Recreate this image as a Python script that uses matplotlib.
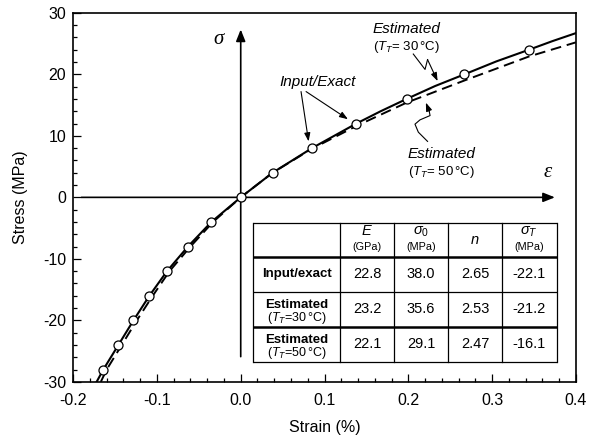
import matplotlib.pyplot as plt
from matplotlib.ticker import MultipleLocator

plt.rcParams.update({
    "font.family": "Liberation Sans",
    "mathtext.fontset": "custom",
    "mathtext.rm": "Liberation Sans",
    "mathtext.it": "Liberation Sans:italic",
    "mathtext.bf": "Liberation Sans:bold",
})

# input / exact data points (strain %, stress MPa)
exact_strain = [-0.164, -0.146, -0.128, -0.109, -0.088, -0.063, -0.035, 0.0,
                0.038, 0.085, 0.138, 0.198, 0.267, 0.344]
exact_stress = [-28, -24, -20, -16, -12, -8, -4, 0, 4, 8, 12, 16, 20, 24]

# estimated curve, T_T = 30 C (solid)
est30_strain = [-0.172, -0.164, -0.146, -0.128, -0.109, -0.088, -0.063, -0.035, 0.0,
                0.038, 0.085, 0.138, 0.167, 0.198, 0.232, 0.267, 0.305, 0.344, 0.372, 0.40]
est30_stress = [-30, -28, -24, -20, -16, -12, -8, -4, 0,
                4, 8, 12, 14.0, 16, 18.1, 20, 22.1, 24, 25.4, 26.7]

# estimated curve, T_T = 50 C (dashed)
est50_strain = [-0.167, -0.160, -0.142, -0.124, -0.105, -0.085, -0.060, -0.033, 0.0,
                0.038, 0.085, 0.138, 0.198, 0.267, 0.344, 0.40]
est50_stress = [-30, -28, -24, -20, -16, -12, -8, -4, 0,
                4, 7.9, 11.6, 15.4, 19.0, 22.9, 25.2]

col_heads = ["$E$", r"$\mathit{σ_0}$", "$n$", r"$\mathit{σ_T}$"]
col_units = ["(GPa)", "(MPa)", "", "(MPa)"]
row_names = ["Input/exact", "Estimated", "Estimated"]
row_notes = ["", r"($T_T$=30$\,$°C)", r"($T_T$=50$\,$°C)"]
table_vals = [
    ["22.8", "38.0", "2.65", "-22.1"],
    ["23.2", "35.6", "2.53", "-21.2"],
    ["22.1", "29.1", "2.47", "-16.1"],
]

fig = plt.figure(figsize=(5.9, 4.43), dpi=100)
ax = fig.add_axes([0.124, 0.138, 0.852, 0.833])

ax.plot(est30_strain, est30_stress, color="black", lw=1.5, zorder=3)
ax.plot(est50_strain, est50_stress, color="black", lw=1.4, ls=(0, (5.5, 3)), zorder=3)
ax.plot(exact_strain, exact_stress, ls="none", marker="o", ms=6.5,
        mfc="white", mec="black", mew=0.9, zorder=4)

# sigma / epsilon axes
arrow = dict(arrowstyle="-|>,head_length=0.7,head_width=0.28", lw=1.2,
             color="black", shrinkA=0, shrinkB=0)
ax.annotate("", xy=(0.375, 0), xytext=(-0.19, 0), arrowprops=arrow, zorder=2)
ax.annotate("", xy=(0, 27.3), xytext=(0, -25.9), arrowprops=arrow, zorder=2)
ax.text(-0.027, 25.7, "σ", family="Liberation Serif", style="italic",
        fontsize=15, ha="center", va="center")
ax.text(0.366, 4.1, "ε", family="Liberation Serif", style="italic",
        fontsize=15, ha="center", va="center")

# annotations
thin = dict(arrowstyle="-|>,head_length=0.5,head_width=0.18", lw=0.8,
            color="black", shrinkA=0, shrinkB=0)
ax.text(0.092, 18.7, "Input/Exact", style="italic", fontsize=11, ha="center", va="center")
ax.annotate("", xy=(0.081, 9.1), xytext=(0.072, 17.2), arrowprops=thin)
ax.annotate("", xy=(0.128, 12.7), xytext=(0.078, 17.2), arrowprops=thin)

ax.text(0.198, 27.3, "Estimated", style="italic", fontsize=11, ha="center", va="center")
ax.text(0.198, 24.4, r"($T_T$= 30$\,$°C)", fontsize=9.5, ha="center", va="center")
ax.plot([0.206, 0.220, 0.223], [23.3, 20.8, 22.4], color="black", lw=0.8)
ax.annotate("", xy=(0.235, 18.9), xytext=(0.223, 22.4), arrowprops=thin)

ax.text(0.24, 7.0, "Estimated", style="italic", fontsize=11, ha="center", va="center")
ax.text(0.24, 4.1, r"($T_T$= 50$\,$°C)", fontsize=9.5, ha="center", va="center")
ax.plot([0.223, 0.212, 0.208, 0.214, 0.226, 0.225], [9.1, 10.6, 11.9, 12.6, 13.3, 14.0],
        color="black", lw=0.8)
ax.annotate("", xy=(0.221, 15.4), xytext=(0.225, 14.0), arrowprops=thin)

# parameter table (axes fraction)
tr = ax.transAxes
xs = [0.358, 0.531, 0.638, 0.746, 0.853, 0.962]
ys = [0.431, 0.339, 0.244, 0.149, 0.054]
ax.fill_between([xs[0], xs[-1]], ys[-1], ys[0], transform=tr, color="white", zorder=5)
for i, y in enumerate(ys):
    lw = 1.8 if i in (1, 3) else 0.9
    ax.plot([xs[0], xs[-1]], [y, y], transform=tr, color="black", lw=lw, zorder=6,
            solid_capstyle="butt")
for x in xs:
    ax.plot([x, x], [ys[-1], ys[0]], transform=tr, color="black", lw=0.9, zorder=6)

cx = [(a + b) / 2 for a, b in zip(xs[:-1], xs[1:])]
for j, (head, unit) in enumerate(zip(col_heads, col_units)):
    if unit:
        ax.text(cx[j + 1], 0.408, head, transform=tr, fontsize=10.5, ha="center",
                va="center", zorder=7)
        ax.text(cx[j + 1], 0.365, unit, transform=tr, fontsize=7.8, ha="center",
                va="center", zorder=7)
    else:
        ax.text(cx[j + 1], 0.385, head, transform=tr, fontsize=10.5, ha="center",
                va="center", zorder=7)

row_c = [(a + b) / 2 for a, b in zip(ys[1:-1], ys[2:])]
for i, (name, note, vals) in enumerate(zip(row_names, row_notes, table_vals)):
    yc = row_c[i]
    if note:
        ax.text(cx[0], yc + 0.013, name, transform=tr, fontsize=9.5, weight="bold",
                ha="center", va="center", zorder=7)
        ax.text(cx[0], yc - 0.023, note, transform=tr, fontsize=9, ha="center",
                va="center", zorder=7)
    else:
        ax.text(cx[0], yc, name, transform=tr, fontsize=9.5, weight="bold",
                ha="center", va="center", zorder=7)
    for j, v in enumerate(vals):
        ax.text(cx[j + 1], yc, v, transform=tr, fontsize=10.5, ha="center",
                va="center", zorder=7)

ax.set_xlim(-0.2, 0.4)
ax.set_ylim(-30, 30)
ax.xaxis.set_major_locator(MultipleLocator(0.1))
ax.xaxis.set_minor_locator(MultipleLocator(0.02))
ax.yaxis.set_major_locator(MultipleLocator(10))
ax.yaxis.set_minor_locator(MultipleLocator(2))
ax.set_xticks([-0.2, -0.1, 0.0, 0.1, 0.2, 0.3, 0.4],
              ["-0.2", "-0.1", "0.0", "0.1", "0.2", "0.3", "0.4"])
ax.set_yticks([-30, -20, -10, 0, 10, 20, 30], ["-30", "-20", "-10", "0", "10", "20", "30"])
ax.tick_params(which="both", direction="in", labelsize=11.5, width=0.9)
ax.tick_params(axis="x", which="major", length=6, pad=8)
ax.tick_params(axis="y", which="major", length=6, pad=5)
ax.tick_params(which="minor", length=3)
for sp in ax.spines.values():
    sp.set_linewidth(1.2)
ax.set_xlabel("Strain (%)", fontsize=11.5, labelpad=9)
ax.set_ylabel("Stress (MPa)", fontsize=11.5, labelpad=11)

fig.savefig("out.png", dpi=100)
